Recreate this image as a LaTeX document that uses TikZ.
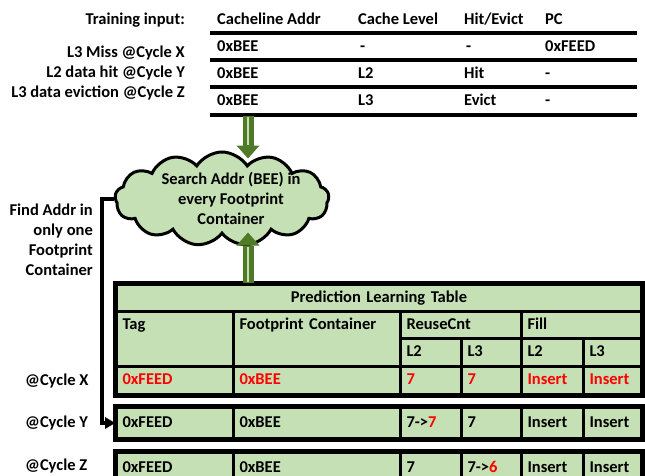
\documentclass[tikz,border=0pt]{standalone}
\usepackage{fontspec}
\setmainfont{Carlito}
\usetikzlibrary{arrows.meta, calc, positioning, shapes.symbols}
\definecolor{leafgreen}{HTML}{C5E0B4}
\definecolor{darkgreen}{HTML}{4F7A28}
\definecolor{hotred}{HTML}{FF0000}
\tikzset{
  txt/.style={font=\fontsize{16.5}{20}\selectfont\bfseries, inner sep=0pt},
  rule/.style={line width=3.5pt},
  cell/.style 2 args={rectangle, draw=black, line width=3pt, fill=leafgreen, anchor=north west,
    minimum width=#1, text width=#1-12pt, minimum height=#2, inner xsep=6pt, inner ysep=0pt,
    align=left, text height=11pt, text depth=3pt, font=\fontsize{16.5}{20}\selectfont\bfseries},
  hot/.style={text=hotred},
  bigarrow/.style={draw=darkgreen, line width=11pt, -{Triangle[width=23pt,length=13pt,line width=0pt]}},
  stripe/.style={draw=leafgreen, line width=2.5pt, shorten >=14pt, shorten <=1pt},
  flow/.style={line width=3.5pt, -{Triangle[width=12pt,length=10pt,line width=0pt]}}
}
\begin{document}
\begin{tikzpicture}[x=1pt, y=-1pt]
\useasboundingbox (0,0) rectangle (645,476);

% Training input table
\node[txt, anchor=base east] (tinput) at (185,25) {Training input:};
\node[txt, anchor=base east] (lmiss) at (185,58) {L3 Miss @Cycle X};
\node[txt, anchor=base east] (lhit) at (185,78) {L2 data hit @Cycle Y};
\node[txt, anchor=base east] (levict) at (185,98) {L3 data eviction @Cycle Z};

\node[txt, anchor=base west] (hdaddr) at (217,25) {Cacheline Addr};
\node[txt, anchor=base west] (hdlevel) at (358,25) {Cache Level};
\node[txt, anchor=base west] (hdhit) at (464,25) {Hit/Evict};
\node[txt, anchor=base west] (hdpc) at (545,25) {PC};

\node[txt, anchor=base west] (maddr) at (217,52) {0xBEE};
\node[txt, anchor=base west] (mlevel) at (360,52) {-};
\node[txt, anchor=base west] (mhit) at (466,52) {-};
\node[txt, anchor=base west] (mpc) at (545,52) {0xFEED};

\node[txt, anchor=base west] (haddr) at (217,79) {0xBEE};
\node[txt, anchor=base west] (hlevel) at (358,79) {L2};
\node[txt, anchor=base west] (hhit) at (464,79) {Hit};
\node[txt, anchor=base west] (hpc) at (545,79) {-};

\node[txt, anchor=base west] (eaddr) at (217,106) {0xBEE};
\node[txt, anchor=base west] (elevel) at (358,106) {L3};
\node[txt, anchor=base west] (ehit) at (464,106) {Evict};
\node[txt, anchor=base west] (epc) at (545,106) {-};

\foreach \y in {33,60,87,115} {
  \draw[rule] (210,\y) -- (637,\y);
}
\coordinate (tbottom) at (248,116);

% Search cloud
\node[cloud, cloud puffs=13, cloud puff arc=115, draw, line width=3pt, fill=leafgreen,
  minimum width=214pt, minimum height=94pt, inner sep=0pt] (search) at (222,199) {};
\node[txt, align=center] (searchtxt) at (231,198) {Search Addr (BEE) in\\every Footprint\\Container};

\node[txt, align=right, anchor=north east] (findtxt) at (93,204) {Find Addr in\\only one\\Footprint\\Container};

% Prediction Learning Table
\node[cell={525pt}{27pt}, align=center] (title) at (115,283) {Prediction Learning Table};
\node[cell={117pt}{55pt}, text depth=30pt] (tag) at (115,310) {Tag};
\node[cell={167pt}{55pt}, text depth=30pt] (fpc) at (232,310) {Footprint Container};
\node[cell={121pt}{27pt}] (reuse) at (399,310) {ReuseCnt};
\node[cell={120pt}{27pt}] (fill) at (520,310) {Fill};
\node[cell={61pt}{28pt}] (rltwo) at (399,337) {L2};
\node[cell={60pt}{28pt}] (rlthree) at (460,337) {L3};
\node[cell={62pt}{28pt}] (fltwo) at (520,337) {L2};
\node[cell={58pt}{28pt}] (flthree) at (582,337) {L3};

\node[cell={117pt}{28pt}, hot] (xtag) at (115,365) {0xFEED};
\node[cell={167pt}{28pt}, hot] (xfpc) at (232,365) {0xBEE};
\node[cell={61pt}{28pt}, hot] (xrltwo) at (399,365) {7};
\node[cell={60pt}{28pt}, hot] (xrlthree) at (460,365) {7};
\node[cell={62pt}{28pt}, hot] (xfltwo) at (520,365) {Insert};
\node[cell={58pt}{28pt}, hot] (xflthree) at (582,365) {Insert};
\draw[line width=4pt] (title.north west) rectangle (xflthree.south east);

% Entry at cycle Y
\node[cell={117pt}{31pt}] (ytag) at (115,406) {0xFEED};
\node[cell={167pt}{31pt}] (yfpc) at (232,406) {0xBEE};
\node[cell={61pt}{31pt}] (yrltwo) at (399,406) {7->\textcolor{hotred}{7}};
\node[cell={60pt}{31pt}] (yrlthree) at (460,406) {7};
\node[cell={62pt}{31pt}] (yfltwo) at (520,406) {Insert};
\node[cell={58pt}{31pt}] (yflthree) at (582,406) {Insert};
\draw[line width=4pt] (ytag.north west) rectangle (yflthree.south east);

% Entry at cycle Z
\node[cell={117pt}{31pt}] (ztag) at (115,451) {0xFEED};
\node[cell={167pt}{31pt}] (zfpc) at (232,451) {0xBEE};
\node[cell={61pt}{31pt}] (zrltwo) at (399,451) {7};
\node[cell={60pt}{31pt}] (zrlthree) at (460,451) {7->\textcolor{hotred}{6}};
\node[cell={62pt}{31pt}] (zfltwo) at (520,451) {Insert};
\node[cell={58pt}{31pt}] (zflthree) at (582,451) {Insert};
\draw[line width=4pt] (ztag.north west) rectangle (zflthree.south east);

\node[txt, anchor=base west] (cycx) at (25,385) {@Cycle X};
\node[txt, anchor=base west] (cycy) at (25,427) {@Cycle Y};
\node[txt, anchor=base west] (cycz) at (25,470) {@Cycle Z};

% Arrows
\coordinate (ctop) at ($(tbottom |- search.north)+(0,8)$);
\draw[bigarrow] (tbottom) -- (ctop);
\draw[stripe] (tbottom) -- (ctop);
\coordinate (ttop) at (title.north -| tbottom);
\coordinate (cbot) at ($(ttop |- search.south)+(0,-3)$);
\draw[bigarrow] (ttop) -- (cbot);
\draw[stripe] (ttop) -- (cbot);
\draw[flow] (search.west) -- ++(-12,0) |- (ytag.west);
\end{tikzpicture}
\end{document}
